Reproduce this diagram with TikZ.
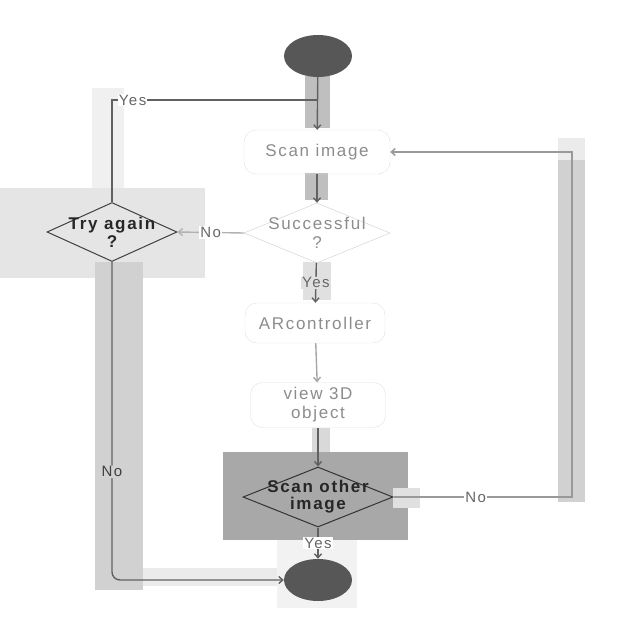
\documentclass[tikz,border=0pt]{standalone}
\usepackage{fontspec}
\setmainfont{Liberation Sans}[LetterSpace=10]
\usetikzlibrary{arrows.meta,positioning,shapes.geometric,backgrounds}

\begin{document}
\begin{tikzpicture}[x=1pt, y=-1pt,
    font=\fontsize{17}{19}\selectfont,
    flow/.style={draw=black!62, line width=1.4pt, -{Straight Barb[length=4pt,width=7pt]}},
    faintbox/.style={draw=black!12, rounded corners=12pt, text=black!45, align=center},
    terminal/.style={ellipse, fill=black!66, minimum width=68pt, minimum height=42pt},
    decision/.style={diamond, draw=black!20, inner sep=0pt},
    edgelabel/.style={fill=white, inner sep=1pt, text=black!60, font=\fontsize{15}{17}\selectfont}]
  \useasboundingbox (0,0) rectangle (640,640);

  % Gray patches behind the paths
  \fill[black!6]  (92,88) rectangle (124,200);
  \fill[black!10] (0,188) rectangle (205,278);
  \fill[black!18] (95,262) rectangle (143,590);
  \fill[black!8]  (143,568) rectangle (277,586);
  \fill[black!18] (558,138) rectangle (585,502);
  \fill[black!8]  (558,138) rectangle (585,160);
  \fill[black!34] (223,452) rectangle (408,540);
  \fill[black!12] (393,488) rectangle (420,508);
  \fill[black!25] (305,76) rectangle (330,128);
  \fill[black!25] (305,173) rectangle (328,200);
  \fill[black!12] (303,262) rectangle (331,300);
  \fill[black!15] (312,428) rectangle (330,452);
  \fill[black!5]  (277,540) rectangle (357,608);

  % Nodes
  \node[terminal] (start) at (318,56) {};
  \node[faintbox, minimum width=146pt, minimum height=44pt] (scan) at (317,152) {Scan image};
  \node[decision, minimum width=146pt, minimum height=60pt,
    label={[align=center, text=black!45]center:Successful\\?}] (succ) at (317,233) {};
  \node[faintbox, minimum width=140pt, minimum height=40pt] (ar) at (315,323) {ARcontroller};
  \node[faintbox, minimum width=135pt, minimum height=45pt] (view) at (318,405) {view 3D\\object};
  \node[decision, draw=black!80, line width=1pt, minimum width=150pt, minimum height=60pt,
    label={[align=center, text=black!85, font=\fontsize{17}{17}\selectfont\bfseries]center:Scan other\\image}] (other) at (318,497) {};
  \node[terminal] (end) at (318,580) {};
  \node[decision, draw=black!75, line width=1pt, minimum width=130pt, minimum height=59pt,
    label={[align=center, text=black!85, font=\fontsize{17}{18}\selectfont\bfseries]center:Try again\\?}] (try) at (112,232) {};
  \coordinate (join) at (318,100);
  \coordinate (loop) at (572,152);

  % Connectors
  \draw[flow] (start) -- (scan);
  \draw[flow] (scan) -- (succ);
  \draw[flow] (succ) -- node[edgelabel, fill=black!12] {Yes} (ar);
  \draw[flow, draw=black!35] (ar) -- (view);
  \draw[flow] (view) -- (other);
  \draw[flow] (other) -- node[edgelabel] {Yes} (end);
  \draw[flow, draw=black!30] (succ.west) -- node[edgelabel] {No} (try.east);
  \draw[draw=black!62, line width=1.4pt] (try.north) |- node[edgelabel, pos=0.55] {Yes} (join);
  \draw[flow, rounded corners=8pt] (try.south) |- node[edgelabel, fill=black!18, text=black!75, pos=0.33] {No} (end.west);
  \draw[flow, draw=black!40] (other.east) -| node[edgelabel, pos=0.23] {No} (loop) -- (scan.east);

\end{tikzpicture}
\end{document}
